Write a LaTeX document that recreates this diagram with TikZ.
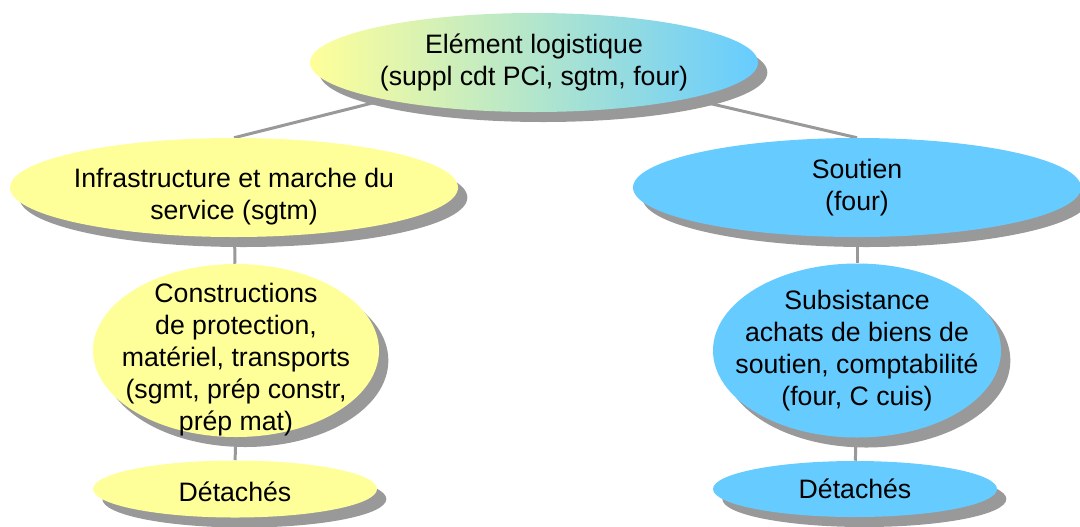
\documentclass[tikz,border=0pt]{standalone}
\usepackage{fontspec}
\setmainfont{Liberation Sans}
\usetikzlibrary{shapes.geometric, shadows, backgrounds}

\definecolor{jauneclair}{RGB}{255,255,153}
\definecolor{bleuclair}{RGB}{102,204,255}
\definecolor{ombre}{RGB}{153,153,153}

\tikzset{
    bulle/.style={ellipse, inner sep=0pt,
        drop shadow={shadow xshift=7pt, shadow yshift=-7.5pt, fill=ombre, opacity=1}},
    texte/.style={align=center, inner sep=0pt,
        font=\fontsize{20}{24}\selectfont},
    jaune/.style={bulle, fill=jauneclair},
    bleu/.style={bulle, fill=bleuclair},
    lien/.style={draw=ombre, line width=2.25pt},
}

\begin{document}
\begin{tikzpicture}[x=0.75pt, y=-0.75pt]
    \def\px{0.75pt}
    \def\colL{235}
    \def\colR{857}
    \def\rowTop{62.5}
    \def\rowOne{187.5}
    \def\rowTwo{350.5}
    \def\rowThree{489}

    \useasboundingbox (0, 0) rectangle (1080, 526);

    % Draw top element
    \node[bulle, left color=jauneclair, right color=bleuclair,
        minimum width=448*\px, minimum height=99*\px,
        label={[texte]center:{Elément logistique\\(suppl cdt PCi, sgtm, four)}}]
        (logistique) at (534, \rowTop) {};

    % Draw first level
    \node[jaune, minimum width=448*\px, minimum height=99*\px,
        label={[texte, yshift=-7pt]center:{Infrastructure et marche du\\service (sgtm)}}]
        (infra) at (\colL - 1, \rowOne) {};
    \node[bleu, minimum width=448*\px, minimum height=99*\px,
        label={[texte]center:{Soutien\\(four)}}]
        (soutien) at (\colR, \rowOne) {};

    % Draw second level
    \node[jaune, minimum width=286*\px, minimum height=173*\px,
        label={[texte, yshift=-7pt]center:{Constructions\\de protection,\\matériel, transports\\(sgmt, prép constr,\\prép mat)}}]
        (constr) at (\colL + 1, \rowTwo) {};
    \node[bleu, minimum width=288*\px, minimum height=174*\px,
        label={[texte]center:{Subsistance\\achats de biens de\\soutien, comptabilité\\(four, C cuis)}}]
        (subsist) at (\colR, \rowTwo) {};

    % Draw detached elements
    \node[jaune, minimum width=284*\px, minimum height=57*\px,
        label={[texte, yshift=-2pt]center:Détachés}]
        (detL) at (\colL, \rowThree) {};
    \node[bleu, minimum width=284*\px, minimum height=56*\px,
        label={[texte]center:Détachés}]
        (detR) at (\colR - 2, \rowThree) {};

    % Draw links behind the bubbles
    \begin{scope}[on background layer]
        \draw[lien] (logistique) -- (infra.north);
        \draw[lien] (logistique) -- (soutien.north);
        \foreach \a/\b in {infra/constr, constr/detL, soutien/subsist, subsist/detR} {
            \draw[lien] (\a) -- (\b);
        }
    \end{scope}
\end{tikzpicture}
\end{document}
